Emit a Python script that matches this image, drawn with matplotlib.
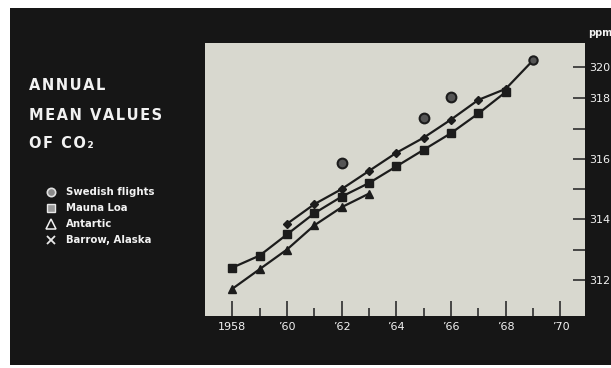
import numpy as np
import matplotlib
matplotlib.use("Agg")
import matplotlib.pyplot as plt
from matplotlib.patches import Rectangle
from matplotlib.lines import Line2D

# annual mean CO2 values (ppm)
years_mauna = [1958, 1959, 1960, 1961, 1962, 1963, 1964, 1965, 1966, 1967, 1968]
co2_mauna = [312.4, 312.8, 313.5, 314.2, 314.75, 315.2, 315.75, 316.3, 316.85, 317.5, 318.4]

years_barrow = [1960, 1961, 1962, 1963, 1964, 1965, 1966, 1967, 1968, 1969]
co2_barrow = [313.85, 314.5, 315.0, 315.6, 316.2, 316.7, 317.3, 317.95, 318.6, 320.4]

years_antarctic = [1958, 1959, 1960, 1961, 1962, 1963]
co2_antarctic = [311.7, 312.35, 313.0, 313.8, 314.4, 314.85]

years_swedish = [1962, 1965, 1966]
co2_swedish = [315.85, 317.35, 318.1]

year_ticks = list(range(1958, 1971, 2))
year_labels = ["1958", "\u201960", "\u201962", "\u201964", "\u201966", "\u201968", "\u201970"]
ppm_ticks = [312, 314, 316, 318, 320]
legend_labels = ["Swedish flights", "Mauna Loa", "Antartic", "Barrow, Alaska"]

BG = "#161616"
PANEL = "#d8d8cf"
INK = "#1c1c1c"
TXT = "#f2f2f2"


# the ppm axis is drawn with a compressed step above 318
def squeeze(v):
    v = np.asarray(v, dtype=float)
    return np.where(v <= 318, v, 318 + (v - 318) * 0.525)


def unsqueeze(t):
    t = np.asarray(t, dtype=float)
    return np.where(t <= 318, t, 318 + (t - 318) / 0.525)


fig = plt.figure(figsize=(6.11, 3.68), dpi=100, facecolor="white")

# pixel-space layer for the dark page, title and key
bg = fig.add_axes([0, 0, 1, 1], zorder=0)
bg.set_xlim(0, 611)
bg.set_ylim(368, 0)
bg.axis("off")
bg.add_patch(Rectangle((10, 8), 601, 357, facecolor=BG, edgecolor="none"))

hs = "\u200a"
for txt, y in [("ANNUAL", 86), ("MEAN VALUES", 116), ("OF CO\u2082", 144)]:
    bg.text(29, y, hs.join(txt), color=TXT, fontsize=10.5, fontweight="bold",
            va="center", ha="left", family="DejaVu Sans")

key_y = [192, 208, 224, 240]
bg.plot(51, key_y[0], "o", ms=6, mfc="#8a8a8a", mec="#e0e0e0", mew=1.2)
bg.plot(51, key_y[1], "s", ms=6, mfc="#9a9a9a", mec="#e8e8e8", mew=1.0)
bg.plot(51, key_y[2], "^", ms=7, mfc="none", mec="#f0f0f0", mew=1.1)
bg.plot(51, key_y[3], "x", ms=6, mec="#e8e8e8", mew=1.3)
for lab, y in zip(legend_labels, key_y):
    bg.text(66, y, lab, color=TXT, fontsize=7.3, fontweight="bold",
            va="center", ha="left")

bg.text(600, 33, "ppm", color=TXT, fontsize=7, fontweight="bold",
        ha="center", va="center")

# chart
ax = fig.add_axes([205 / 611, 52 / 368, 380 / 611, 273 / 368], zorder=2)
ax.set_facecolor(PANEL)
ax.set_yscale("function", functions=(squeeze, unsqueeze))
ax.set_xlim(1957.0, 1970.9)
ax.set_ylim(310.8, 321.49)

ax.plot(years_mauna, co2_mauna, color=INK, lw=1.6, marker="s", ms=5.5,
        mfc=INK, mec=INK, zorder=3)
ax.plot(years_barrow[:-1], co2_barrow[:-1], color=INK, lw=1.6, marker="D", ms=4.5,
        mfc=INK, mec=INK, zorder=3)
ax.plot(years_barrow[-2:], co2_barrow[-2:], color=INK, lw=1.6, zorder=3)
ax.plot(years_barrow[-1], co2_barrow[-1], "o", ms=6, mfc="#555555", mec=INK,
        mew=1.5, zorder=4)
ax.plot(years_antarctic, co2_antarctic, color=INK, lw=1.6, marker="^", ms=6,
        mfc=INK, mec=INK, zorder=3)
ax.plot(years_swedish, co2_swedish, "o", ls="none", ms=7, mfc="#555555",
        mec=INK, mew=1.5, zorder=4)

for s in ax.spines.values():
    s.set_visible(False)

ax.set_xticks(year_ticks)
ax.set_xticklabels(year_labels)
ax.set_xticks(range(1959, 1970, 2), minor=True)
ax.tick_params(axis="x", which="major", direction="in", length=11, width=1.3,
               color="#3a3a3a", labelcolor=TXT, labelsize=8, pad=4)
ax.tick_params(axis="x", which="minor", direction="in", length=6, width=1.3,
               color="#3a3a3a")

ax.yaxis.tick_right()
ax.set_yticks(ppm_ticks)
ax.set_yticklabels([str(v) for v in ppm_ticks])
ax.set_yticks([313, 315, 317], minor=True)
ax.tick_params(axis="y", which="major", direction="in", length=9, width=1.3,
               color="#3a3a3a", labelcolor=TXT, labelsize=8, pad=3)
ax.tick_params(axis="y", which="minor", direction="in", length=9, width=1.3,
               color="#3a3a3a")
ax.tick_params(axis="y", which="both", left=False)

fig.savefig("out.png", dpi=100, facecolor=fig.get_facecolor())
